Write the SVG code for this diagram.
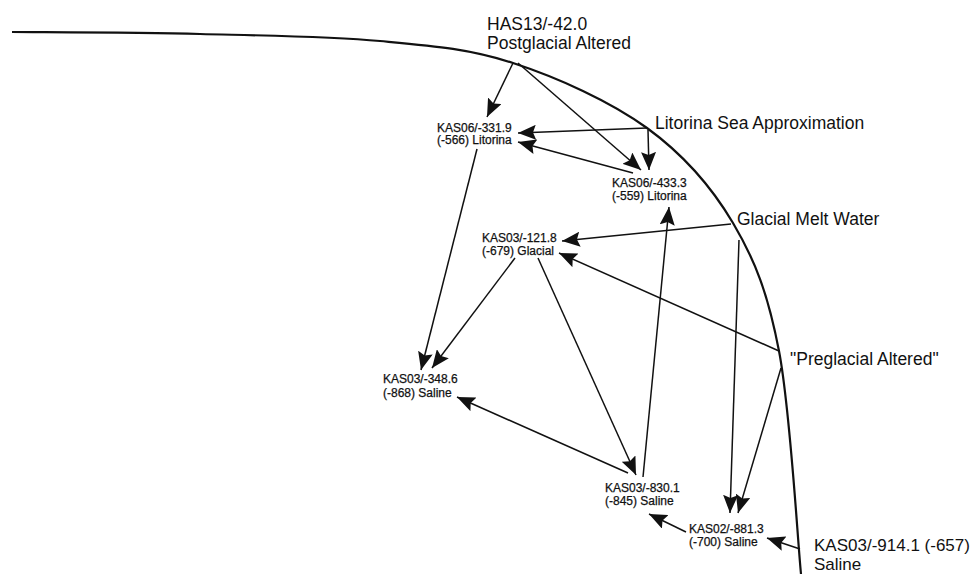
<svg xmlns="http://www.w3.org/2000/svg" width="979" height="574" viewBox="0 0 979 574">
<style>
.big{font-family:"Liberation Sans",Arial,sans-serif;font-size:17.5px;fill:#111}
.sm{font-family:"Liberation Sans",Arial,sans-serif;font-size:12px;fill:#111;stroke:#111;stroke-width:0.25}
.c{fill:none;stroke:#111;stroke-width:1.5}
.curve{fill:none;stroke:#111;stroke-width:2.2}
</style>
<defs>
<marker id="ah" markerUnits="userSpaceOnUse" markerWidth="19" markerHeight="15" viewBox="0 0 19 15" refX="18" refY="7.5" orient="auto">
<path d="M0,0 L18,7.5 L0,15 L3,7.5 z" fill="#111"/>
</marker>
</defs>
<rect width="979" height="574" fill="#fff"/>
<path class="curve" d="M12,32 C43.3,32.3 138.7,32.5 200,34 C261.3,35.5 327.8,36.2 380,41 C432.2,45.8 468.5,48.5 513,63 C557.5,77.5 610.3,101.3 647,128 C683.7,154.7 711,185.8 733,223 C755,260.2 767.7,292.5 779,351 C790.3,409.5 797.3,536.8 801,574"/>
<g id="connectors">
<line class="c" x1="513" y1="63" x2="487" y2="117" marker-end="url(#ah)"/>
<line class="c" x1="518" y1="63" x2="641" y2="170" marker-end="url(#ah)"/>
<line class="c" x1="647" y1="128" x2="518" y2="133" marker-end="url(#ah)"/>
<line class="c" x1="648" y1="130" x2="649" y2="170" marker-end="url(#ah)"/>
<line class="c" x1="633" y1="173" x2="518" y2="142" marker-end="url(#ah)"/>
<line class="c" x1="477" y1="149" x2="421" y2="370" marker-end="url(#ah)"/>
<line class="c" x1="731" y1="224" x2="562" y2="241" marker-end="url(#ah)"/>
<line class="c" x1="779" y1="351" x2="559" y2="253" marker-end="url(#ah)"/>
<line class="c" x1="515" y1="258" x2="432" y2="368" marker-end="url(#ah)"/>
<line class="c" x1="538" y1="258" x2="636" y2="475" marker-end="url(#ah)"/>
<line class="c" x1="643" y1="477" x2="669" y2="207" marker-end="url(#ah)"/>
<line class="c" x1="628" y1="473" x2="457" y2="397" marker-end="url(#ah)"/>
<line class="c" x1="739" y1="240" x2="730" y2="513" marker-end="url(#ah)"/>
<line class="c" x1="781" y1="368" x2="738" y2="513" marker-end="url(#ah)"/>
<line class="c" x1="800" y1="549" x2="767" y2="538" marker-end="url(#ah)"/>
<line class="c" x1="686" y1="532" x2="649" y2="514" marker-end="url(#ah)"/>
</g>
<g id="has13"><text class="big" x="487" y="29.5">HAS13/-42.0</text><text class="big" x="487" y="48.5">Postglacial Altered</text></g>
<g id="litorina-sea"><text class="big" x="655" y="128.5">Litorina Sea Approximation</text></g>
<g id="glacial-melt"><text class="big" x="737" y="225">Glacial Melt Water</text></g>
<g id="preglacial"><text class="big" x="790" y="365">"Preglacial Altered"</text></g>
<g id="kas03-914"><text class="big" x="814" y="551" style="font-size:17px">KAS03/-914.1 (-657)</text><text class="big" x="814" y="570" style="font-size:17px">Saline</text></g>
<g id="kas06-331"><text class="sm" x="437" y="131.5">KAS06/-331.9</text><text class="sm" x="437" y="144.3">(-566) Litorina</text></g>
<g id="kas06-433"><text class="sm" x="612" y="186.7">KAS06/-433.3</text><text class="sm" x="612" y="200">(-559) Litorina</text></g>
<g id="kas03-121"><text class="sm" x="482" y="241.7">KAS03/-121.8</text><text class="sm" x="482" y="255">(-679) Glacial</text></g>
<g id="kas03-348"><text class="sm" x="383" y="383.3">KAS03/-348.6</text><text class="sm" x="383" y="396.5">(-868) Saline</text></g>
<g id="kas03-830"><text class="sm" x="605" y="492">KAS03/-830.1</text><text class="sm" x="605" y="505">(-845) Saline</text></g>
<g id="kas02-881"><text class="sm" x="689" y="533">KAS02/-881.3</text><text class="sm" x="689" y="546">(-700) Saline</text></g>
</svg>
